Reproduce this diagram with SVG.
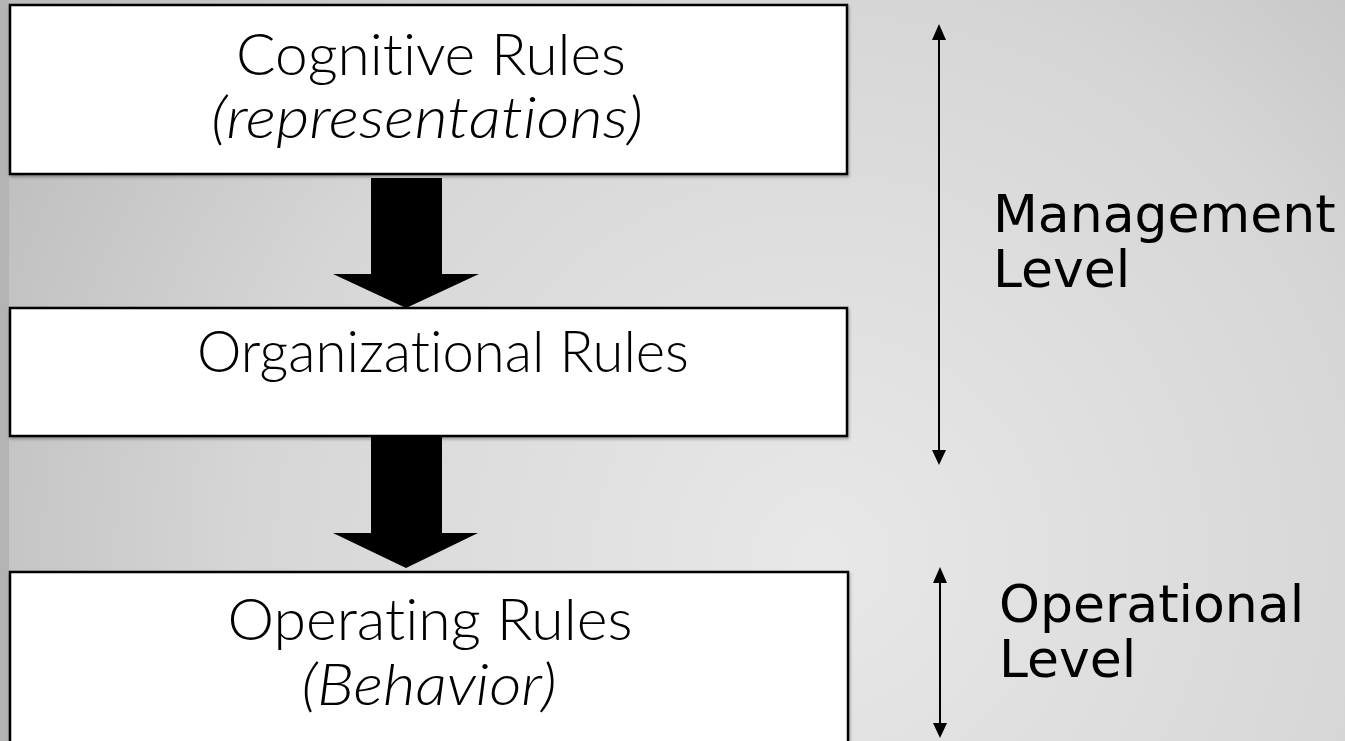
<svg xmlns="http://www.w3.org/2000/svg" width="1345" height="741" viewBox="0 0 1345 741">
<defs>
<radialGradient id="bg" cx="820" cy="560" r="950" gradientUnits="userSpaceOnUse">
<stop offset="0" stop-color="#e8e8e8"/>
<stop offset="0.6" stop-color="#d6d6d6"/>
<stop offset="1" stop-color="#bcbcbc"/>
</radialGradient>
<filter id="sh" x="-5%" y="-5%" width="110%" height="110%">
<feDropShadow dx="1" dy="2" stdDeviation="1.5" flood-color="#000" flood-opacity="0.3"/>
</filter>
</defs>
<style>
.box{fill:#fff;stroke:#000;stroke-width:2.5}
.t{font-family:Lato,"Liberation Sans",Arial,sans-serif;font-weight:300;font-size:57px;fill:#000;text-anchor:middle;font-variant-ligatures:none;font-feature-settings:"liga" 0,"clig" 0}
.i{font-style:italic}
.side{font-family:"DejaVu Sans",Verdana,sans-serif;font-size:52px;fill:#000}
.big{fill:#000}
.dl{stroke:#000;stroke-width:2;fill:none}
.ah{fill:#000}
</style>
<rect width="1345" height="741" fill="url(#bg)"/>
<rect x="0" y="0" width="9" height="741" fill="#b4b4b4"/>

<g id="node-cognitive">
<rect class="box" x="10" y="5" width="837" height="169" filter="url(#sh)"/>
<text class="t" x="431" y="75" textLength="390" lengthAdjust="spacingAndGlyphs">Cognitive Rules</text>
<text class="t i" x="427" y="138" textLength="432" lengthAdjust="spacingAndGlyphs">(representations)</text>
</g>

<g id="node-organizational">
<rect class="box" x="10" y="308" width="837" height="128" filter="url(#sh)"/>
<text class="t" x="443" y="372" textLength="492" lengthAdjust="spacingAndGlyphs">Organizational Rules</text>
</g>

<g id="node-operating">
<rect class="box" x="10" y="572" width="838" height="200" filter="url(#sh)"/>
<text class="t" x="430" y="640" textLength="405" lengthAdjust="spacingAndGlyphs">Operating Rules</text>
<text class="t i" x="429" y="705" textLength="255" lengthAdjust="spacingAndGlyphs">(Behavior)</text>
</g>

<g id="connectors">
<path class="big" d="M371,178 L442,178 L442,274 L479,274 L406,308 L333,274 L371,274 Z"/>
<path class="big" d="M371,437 L442,437 L442,533 L478,533 L406,568 L333,533 L371,533 Z"/>
<line class="dl" x1="939" y1="40" x2="939" y2="450"/>
<path class="ah" d="M932,40 L939,24 L946,40 Z"/>
<path class="ah" d="M932,450 L939,465 L946,450 Z"/>
<line class="dl" x1="940" y1="583" x2="940" y2="723"/>
<path class="ah" d="M933,583 L940,567 L947,583 Z"/>
<path class="ah" d="M933,723 L940,738 L947,723 Z"/>
</g>

<g id="label-management">
<text class="side" x="993" y="232">Management</text>
<text class="side" x="993" y="287">Level</text>
</g>
<g id="label-operational">
<text class="side" x="999" y="622">Operational</text>
<text class="side" x="999" y="677">Level</text>
</g>
</svg>
